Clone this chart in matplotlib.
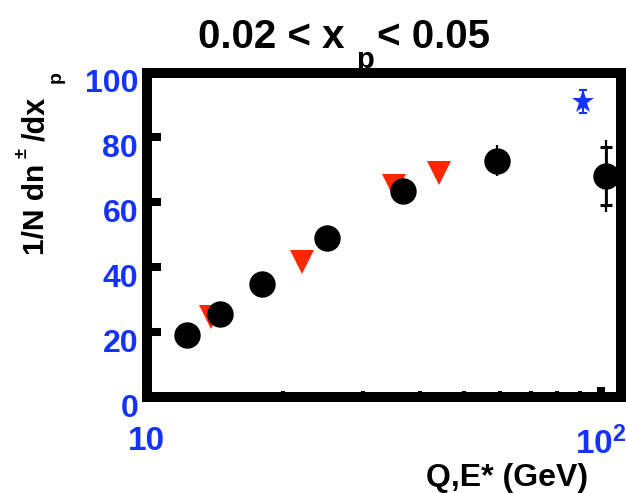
import matplotlib
matplotlib.use('Agg')
import matplotlib.pyplot as plt
from matplotlib.transforms import ScaledTranslation
import matplotlib.ticker as mt

plt.rcParams['font.family'] = ['Liberation Sans', 'DejaVu Sans']
plt.rcParams['font.weight'] = 'bold'
plt.rcParams['mathtext.fontset'] = 'custom'
plt.rcParams['mathtext.rm'] = 'Liberation Sans:bold'
plt.rcParams['mathtext.it'] = 'Liberation Sans:bold'
plt.rcParams['mathtext.bf'] = 'Liberation Sans:bold'
plt.rcParams['mathtext.sf'] = 'Liberation Sans:bold'

# ---- data ----
circ_x = [12.3, 14.5, 18.0, 25.0, 36.7, 59.0, 102.5]
circ_y = [19.1, 25.8, 35.0, 49.1, 63.5, 72.8, 68.1]
circ_err_tot = [0, 0, 0, 0, 0, 4.8, 11.0]
circ_err_stat = [0, 0, 0, 0, 0, 0, 9.0]

tri_x = [13.85, 22.0, 35.1, 44.1]
tri_y = [24.7, 41.8, 65.2, 69.1]

star_x = [91.2]
star_y = [91.0]
star_err = [3.5]

xticks = [10, 100]
xticklabels = ['10', '10$^{2}$']
xminor = [20, 30, 40, 50, 60, 70, 80, 90]
yticks = [0, 20, 40, 60, 80, 100]
yticklabels = ['0', '20', '40', '60', '80', '100']

BLUE = '#1433ff'
RED = '#ff2600'

fig = plt.figure(figsize=(6.26, 4.93), dpi=100)
L, R, T, B = 146.5, 621.0, 72.5, 397.3
ax = fig.add_axes([L / 626, 1 - B / 493, (R - L) / 626, (B - T) / 493])
ax.set_xscale('log')
ax.set_xlim(10, 10 ** (1 + (R - L) / 454.4))
ax.set_ylim(0, 100)

ax.plot(tri_x, tri_y, linestyle='none', marker='v', markersize=17.3,
        color=RED, markeredgewidth=0, zorder=3)
ax.errorbar(circ_x, circ_y, yerr=circ_err_tot, fmt='none', ecolor='black',
            elinewidth=1.6, capsize=0, zorder=4)
ax.errorbar(circ_x, circ_y, yerr=circ_err_stat, fmt='none', ecolor='black',
            elinewidth=2.0, capsize=4, capthick=2.2, zorder=4)
ax.plot(circ_x, circ_y, linestyle='none', marker='o', markersize=18,
        color='black', zorder=5)
ax.errorbar(star_x, star_y, yerr=star_err, fmt='none', ecolor=BLUE,
            elinewidth=1.5, capsize=3, capthick=1.5, zorder=4)
ax.plot(star_x, star_y, linestyle='none', marker='*', markersize=17,
        color=BLUE, markeredgewidth=0, zorder=5)

for s in ax.spines.values():
    s.set_linewidth(7.2)
    s.set_zorder(10)

ax.xaxis.set_major_locator(mt.FixedLocator(xticks))
ax.xaxis.set_major_formatter(mt.FixedFormatter(xticklabels))
ax.xaxis.set_minor_locator(mt.FixedLocator(xminor))
ax.xaxis.set_minor_formatter(mt.NullFormatter())
ax.set_yticks(yticks)
ax.set_yticklabels(yticklabels)

ax.tick_params(axis='x', which='major', direction='in', length=7, width=5.8,
               top=False, bottom=True, pad=21, labelsize=24, labelcolor=BLUE)
ax.tick_params(axis='x', which='minor', direction='in', length=4.5, width=3,
               top=False, bottom=True)
ax.tick_params(axis='y', which='major', direction='in', length=10, width=5.8,
               left=True, right=False, pad=6, labelsize=23, labelcolor=BLUE)
for lab in ax.get_yticklabels():
    lab.set_fontweight('bold')
    lab.set_transform(lab.get_transform() + ScaledTranslation(0, -8 / 100, fig.dpi_scale_trans))
for lab in ax.get_xticklabels():
    lab.set_fontweight('bold')

W, H = 626.0, 493.0

def ftext(px, py, s, **kw):
    fig.text(px / W, 1 - py / H, s, **kw)

# title (pieces, to mimic the wide, low subscript)
ftext(345, 48, "0.02 < x", ha='right', va='baseline', fontsize=29, fontweight='bold')
ftext(365, 68, "p", ha='center', va='baseline', fontsize=21, fontweight='bold')
ftext(377, 48, "< 0.05", ha='left', va='baseline', fontsize=29, fontweight='bold')

# y label pieces (rotated, reading upward)
rot = dict(rotation=90, rotation_mode='anchor', ha='left', va='baseline',
           fontweight='bold')
ftext(44, 255, "1/N dn", fontsize=21.5, **rot)
ftext(27, 158, "\u00b1", fontsize=13, **rot)
ftext(44, 141, "/dx", fontsize=22, **rot)
ftext(61, 83, "p", fontsize=14, **rot)

# x label
ftext(588, 486, "Q,E* (GeV)", ha='right', va='baseline', fontsize=23, fontweight='bold')

fig.savefig('out.png', dpi=100)
